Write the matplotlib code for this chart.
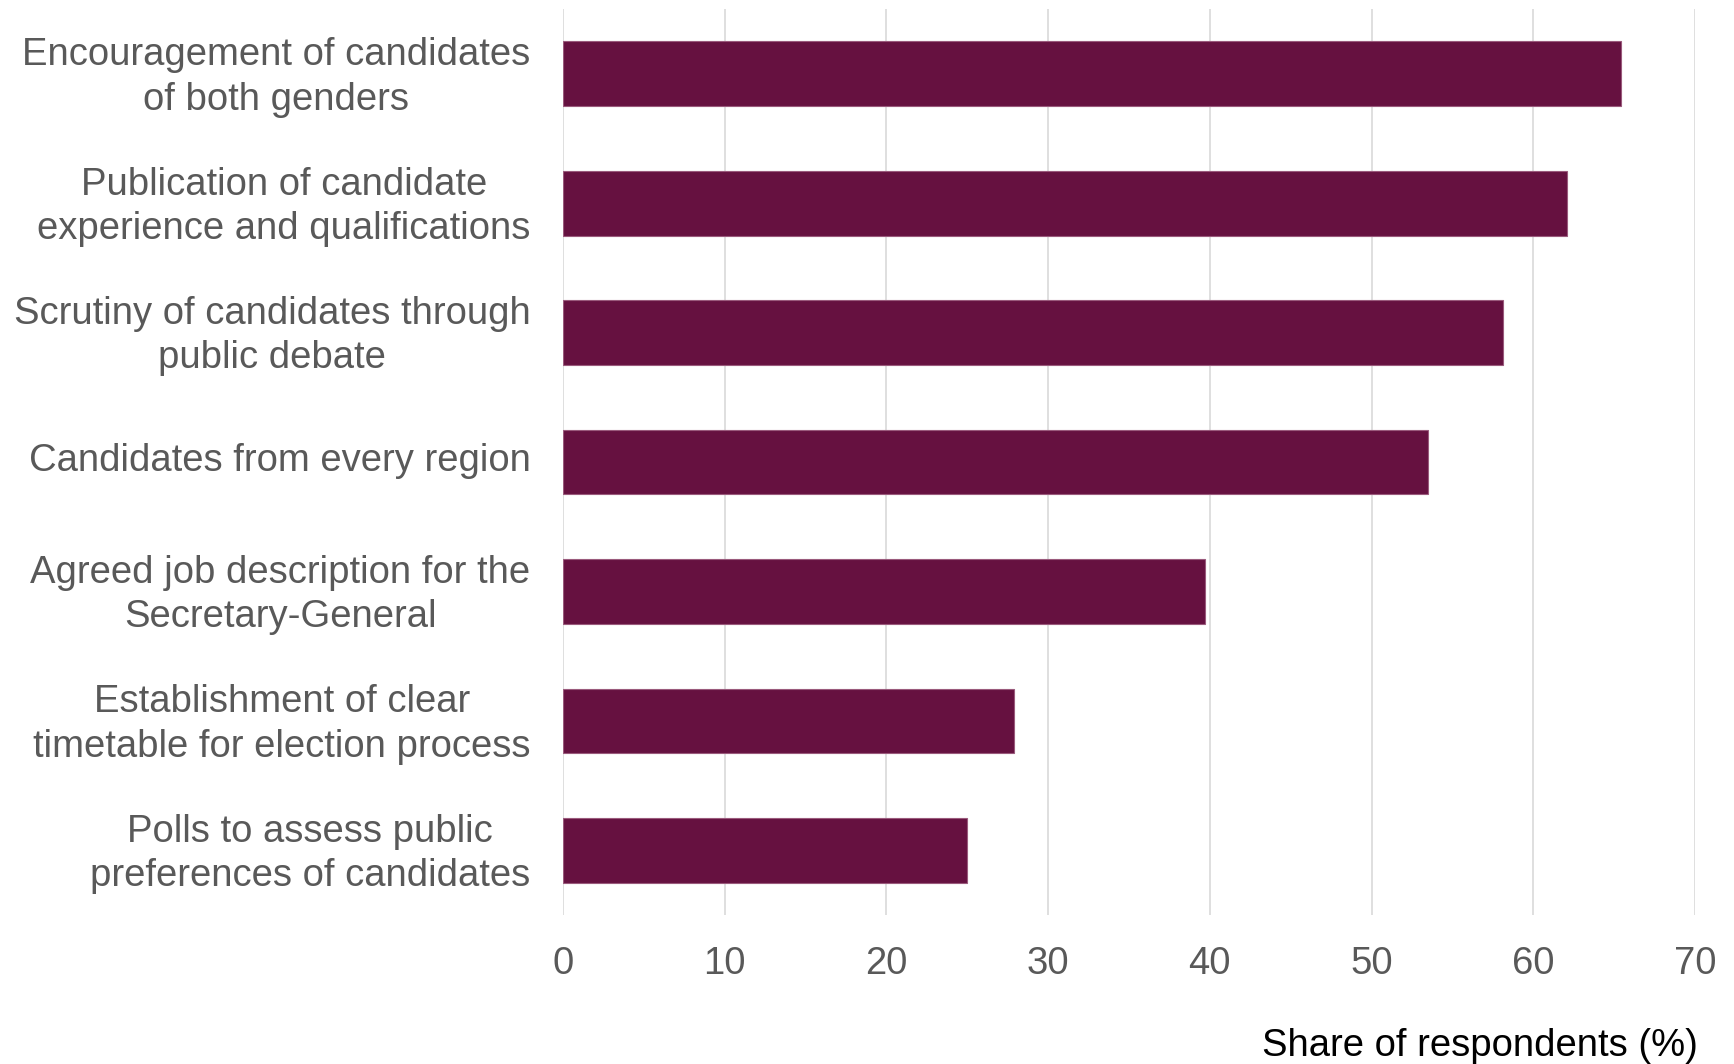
import matplotlib
matplotlib.use("Agg")
import matplotlib.pyplot as plt
import matplotlib.transforms as mtransforms

categories = [
    "Encouragement of candidates\nof both genders",
    "Publication of candidate\nexperience and qualifications",
    "Scrutiny of candidates through\npublic debate",
    "Candidates from every region",
    "Agreed job description for the\nSecretary-General",
    "Establishment of clear\ntimetable for election process",
    "Polls to assess public\npreferences of candidates",
]
values = [65.4, 62.1, 58.1, 53.5, 39.7, 27.9, 25.0]
xticks = [0, 10, 20, 30, 40, 50, 60, 70]
xlabel = "Share of respondents (%)"

plt.rcParams['font.family'] = ['Liberation Sans', 'DejaVu Sans']

fig = plt.figure(figsize=(17.34, 10.64), dpi=100)
ax = fig.add_axes([0.3247, 0.14, 0.6528, 0.8515])

ypos = list(range(len(categories)))
ax.barh(ypos, values, height=0.5, color="#661140", edgecolor="#9a5a7c", linewidth=0.8, zorder=3)
ax.set_ylim(len(categories) - 0.5, -0.5)
ax.set_xlim(0, 70)
ax.set_xticks(xticks)
ax.set_xticklabels([str(t) for t in xticks])
ax.set_yticks(ypos)
ax.set_yticklabels(categories, multialignment="center", linespacing=1.3)

for s in ax.spines.values():
    s.set_visible(False)
ax.grid(axis="x", color="#d9d9d9", linewidth=1.2, zorder=0)
ax.tick_params(axis="both", length=0, colors="#595959", labelsize=27.5)
ax.tick_params(axis="y", pad=23.5)
ax.tick_params(axis="x", pad=22)

offset = mtransforms.ScaledTranslation(0, 3.3 / 72, fig.dpi_scale_trans)
for lbl in ax.get_yticklabels():
    lbl.set_transform(lbl.get_transform() + offset)

fig.text(0.979, 0.0167, xlabel, ha="right", va="center", fontsize=27.5, color="black")

fig.savefig("out.png", dpi=100)
